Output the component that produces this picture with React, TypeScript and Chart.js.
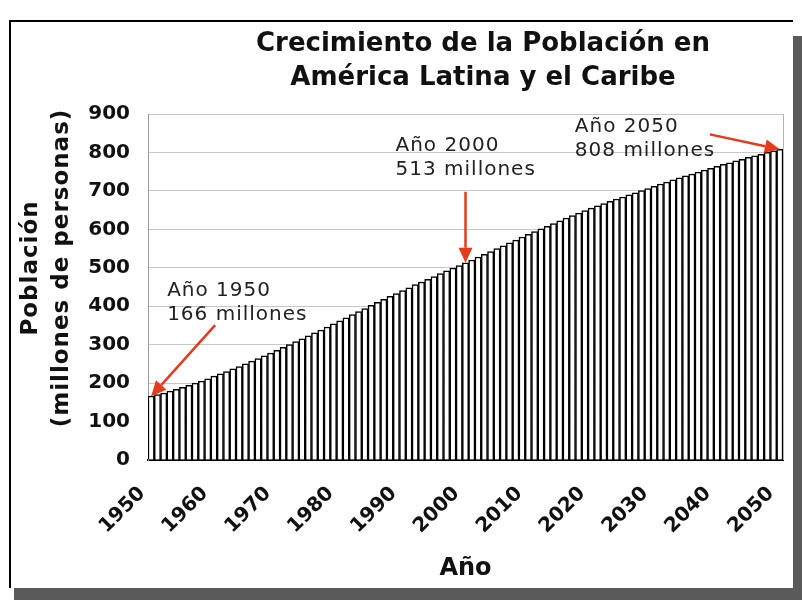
import React, { useEffect, useRef } from "react";
import { Chart, registerables } from "chart.js";

Chart.register(...registerables);

// ---- data ----
const years: string[] = Array.from({ length: 101 }, (_, i) => String(1950 + i));
const tickYears: string[] = ["1950", "1960", "1970", "1980", "1990", "2000", "2010", "2020", "2030", "2040", "2050"];
const population: number[] = [
  166, 170, 174, 179, 184, 189, 194, 200, 205, 211,
  218, 224, 230, 237, 243, 250, 257, 264, 271, 278,
  285, 293, 300, 308, 315, 323, 331, 338, 346, 354,
  362, 370, 378, 386, 394, 402, 410, 418, 426, 433,
  441, 448, 456, 463, 470, 477, 485, 492, 499, 506,
  513, 520, 528, 535, 542, 550, 557, 565, 572, 580,
  587, 594, 601, 608, 615, 622, 629, 636, 642, 649,
  655, 661, 667, 673, 679, 684, 690, 695, 701, 706,
  712, 718, 723, 729, 734, 739, 744, 749, 754, 759,
  764, 769, 773, 778, 782, 787, 791, 795, 800, 804,
  808,
];
const yMin = 0;
const yMax = 900;
const yStep = 100;
const titleLines: string[] = ["Crecimiento de la Población en", "América Latina y el Caribe"];
const yTitleLines: string[] = ["Población", "(millones de personas)"];
const xTitle = "Año";
const annotationYears: string[] = ["1950", "2000", "2050"];
const annotationLines: string[][] = [
  ["Año 1950", "166 millones"],
  ["Año 2000", "513 millones"],
  ["Año 2050", "808 millones"],
];

// ---- layout / style (not data) ----
const annotationLayout = [
  { tx: 16, ty: -100, ax: 64, ay: -71 },
  { tx: -70, ty: -112, ax: 0, ay: -71 },
  { tx: -205, ty: -17, ax: -70, ay: -15 },
];
const ARROW = "#e23c1c";

function drawArrow(ctx: CanvasRenderingContext2D, x0: number, y0: number, x1: number, y1: number) {
  const ang = Math.atan2(y1 - y0, x1 - x0);
  const hl = 15;
  const hw = 7;
  const bx = x1 - hl * Math.cos(ang);
  const by = y1 - hl * Math.sin(ang);
  ctx.strokeStyle = ARROW;
  ctx.fillStyle = ARROW;
  ctx.lineWidth = 2.5;
  ctx.beginPath();
  ctx.moveTo(x0, y0);
  ctx.lineTo(bx, by);
  ctx.stroke();
  ctx.beginPath();
  ctx.moveTo(x1, y1);
  ctx.lineTo(bx + hw * Math.sin(ang), by - hw * Math.cos(ang));
  ctx.lineTo(bx - hw * Math.sin(ang), by + hw * Math.cos(ang));
  ctx.closePath();
  ctx.fill();
}

const overlayPlugin = {
  id: "overlay",
  afterDraw(chart: any) {
    const { ctx, chartArea, scales } = chart;
    const xs = scales.x;
    const ys = scales.y;
    ctx.save();
    // right border of plot
    ctx.strokeStyle = "#b5b5b5";
    ctx.lineWidth = 1;
    ctx.beginPath();
    const rx = Math.round(chartArea.right) + 0.5;
    ctx.moveTo(rx, chartArea.top);
    ctx.lineTo(rx, chartArea.bottom);
    ctx.stroke();

    // title
    ctx.fillStyle = "#111";
    ctx.font = 'bold 26px "DejaVu Sans"';
    ctx.textAlign = "center";
    ctx.textBaseline = "alphabetic";
    titleLines.forEach((t, i) => ctx.fillText(t, 483, 51 + i * 34));

    // y axis title
    ctx.font = 'bold 23px "DejaVu Sans"';
    (ctx as any).letterSpacing = "1px";
    yTitleLines.forEach((t, i) => {
      ctx.save();
      ctx.translate(31 + i * 31, 268);
      ctx.rotate(-Math.PI / 2);
      ctx.textBaseline = "middle";
      ctx.textAlign = "center";
      ctx.fillText(t, 0, 0);
      ctx.restore();
    });

    // annotations
    ctx.font = '20px "DejaVu Sans"';
    ctx.textAlign = "left";
    ctx.textBaseline = "alphabetic";
    annotationYears.forEach((yr, i) => {
      const idx = years.indexOf(yr);
      const px = xs.getPixelForValue(idx);
      const py = ys.getPixelForValue(population[idx]);
      const L = annotationLayout[i];
      ctx.fillStyle = "#222";
      annotationLines[i].forEach((t, j) => ctx.fillText(t, px + L.tx, py + L.ty + j * 24));
      drawArrow(ctx, px + L.ax, py + L.ay, px, py);
    });
    (ctx as any).letterSpacing = "0px";
    ctx.restore();
  },
};

export default function App() {
  const ref = useRef<HTMLCanvasElement | null>(null);
  useEffect(() => {
    if (!ref.current) return;
    const chart = new Chart(ref.current, {
      type: "bar",
      data: {
        labels: years,
        datasets: [
          {
            data: population,
            backgroundColor: "#ffffff",
            borderColor: "#000000",
            borderWidth: 1.5,
            barPercentage: 1,
            categoryPercentage: 1,
          },
        ],
      },
      options: {
        animation: false,
        responsive: false,
        layout: { padding: { top: 114, right: 19, left: 0, bottom: 0 } },
        plugins: { legend: { display: false }, tooltip: { enabled: false }, title: { display: false } },
        scales: {
          x: {
            grid: { display: false, drawTicks: false },
            border: { color: "#000", width: 2 },
            ticks: {
              autoSkip: false,
              minRotation: 45,
              maxRotation: 45,
              padding: 22,
              labelOffset: -9,
              color: "#111",
              font: { family: "DejaVu Sans", weight: "bold", size: 20 },
              callback: (_v: any, i: number) => (tickYears.includes(years[i]) ? years[i] : ""),
            },
            title: {
              display: true,
              text: xTitle,
              color: "#111",
              font: { family: "DejaVu Sans", weight: "bold", size: 24 },
              padding: { top: 0, bottom: 17 },
            },
            afterFit: (s: any) => {
              s.height = 140;
              s.paddingLeft = 0;
              s.paddingRight = 0;
            },
          },
          y: {
            min: yMin,
            max: yMax,
            grid: { color: "#c8c8c8", drawTicks: false },
            border: { color: "#9a9a9a", width: 1 },
            ticks: {
              stepSize: yStep,
              padding: 18,
              color: "#111",
              font: { family: "DejaVu Sans", weight: "bold", size: 20 },
            },
            afterFit: (s: any) => {
              s.width = 148;
              s.paddingTop = 0;
              s.paddingBottom = 0;
            },
          },
        },
      },
      plugins: [overlayPlugin],
    } as any);
    return () => chart.destroy();
  }, []);

  return (
    <div style={{ position: "absolute", left: 0, top: 0, width: 802, height: 600, background: "#fff", overflow: "hidden" }}>
      <div style={{ position: "absolute", left: 14, top: 36, width: 788, height: 564, background: "#5a5a5a" }} />
      <div
        style={{
          position: "absolute",
          left: 9,
          top: 20,
          width: 784,
          height: 568,
          background: "#fff",
          borderLeft: "2px solid #000",
          borderTop: "2px solid #000",
          boxSizing: "border-box",
        }}
      />
      <canvas ref={ref} width={802} height={600} style={{ position: "absolute", left: 0, top: 0, width: 802, height: 600 }} />
    </div>
  );
}
